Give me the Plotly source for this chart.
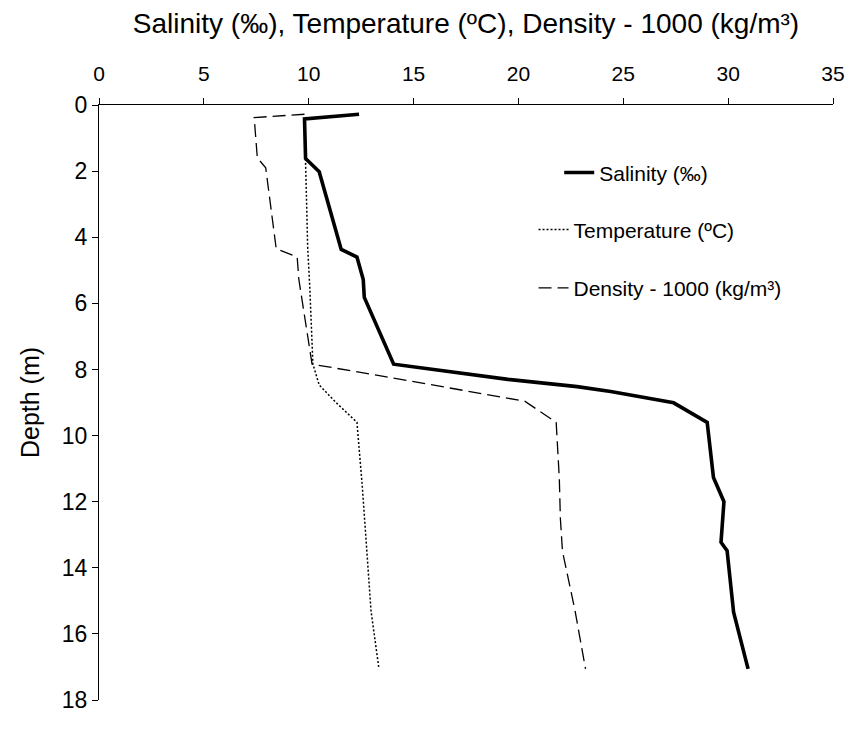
import plotly.graph_objects as go

# Salinity profile (‰) vs depth (m)
sal_depth = [0.28, 0.42, 1.62, 2.02, 4.37, 4.6, 5.28, 5.82, 7.84, 8.3, 8.52, 8.67, 9.01, 9.6,
             11.27, 12.0, 13.23, 13.48, 15.34, 17.06]
sal_value = [12.4, 9.8, 9.85, 10.5, 11.55, 12.3, 12.6, 12.65, 14.05, 19.5, 22.8, 24.4, 27.4, 29.0,
             29.3, 29.8, 29.66, 29.95, 30.26, 30.95]

# Temperature profile (ºC)
tem_depth = [0.42, 1.7, 4.3, 5.5, 7.84, 8.47, 9.0, 9.6, 11.5, 13.3, 15.3, 17.06]
tem_value = [9.8, 9.85, 9.95, 10.05, 10.2, 10.5, 11.3, 12.3, 12.55, 12.75, 12.97, 13.35]

# Density - 1000 (kg/m³)
den_depth = [0.28, 0.38, 1.6, 1.9, 4.35, 4.6, 5.28, 6.6, 7.84, 8.18, 8.82, 8.96, 9.6,
             11.3, 12.5, 13.5, 15.3, 17.06]
den_value = [9.8, 7.4, 7.55, 7.95, 8.45, 9.45, 9.53, 9.84, 10.16, 13.3, 19.0, 20.3, 21.8,
             21.95, 22.0, 22.1, 22.7, 23.2]

x_ticks = [0, 5, 10, 15, 20, 25, 30, 35]
y_ticks = [0, 2, 4, 6, 8, 10, 12, 14, 16, 18]

FONT = "Liberation Sans, Arial, sans-serif"

fig = go.Figure()
fig.add_trace(go.Scatter(x=sal_value, y=sal_depth, mode="lines", name="Salinity (‰)",
                         legend="legend",
                         line=dict(color="black", width=3.6)))
fig.add_trace(go.Scatter(x=tem_value, y=tem_depth, mode="lines", name="Temperature (ºC)",
                         legend="legend2",
                         line=dict(color="black", width=1.5, dash="2px,2px")))
fig.add_trace(go.Scatter(x=den_value, y=den_depth, mode="lines", name="Density - 1000 (kg/m³)",
                         legend="legend3",
                         line=dict(color="black", width=1.3, dash="13px,6px")))

leg_common = dict(xanchor="left", yanchor="middle", font=dict(size=21, color="black"),
                  bgcolor="rgba(0,0,0,0)")

fig.update_layout(
    width=857, height=731,
    margin=dict(l=99, r=15, t=105, b=31),
    paper_bgcolor="white", plot_bgcolor="white",
    font=dict(family=FONT, size=18, color="black"),
    showlegend=True,
    legend=dict(x=0.627, y=0.886, **leg_common),
    legend2=dict(x=0.592, y=0.790, **leg_common),
    legend3=dict(x=0.592, y=0.692, **leg_common),
    xaxis=dict(side="top", range=[0, 35], tickvals=x_ticks, ticktext=[str(v) for v in x_ticks],
               showgrid=False, zeroline=False, showline=True, linecolor="black", linewidth=1.3,
               ticks="outside", ticklen=6, tickcolor="black", tickwidth=1.3,
               tickfont=dict(size=21), ticklabelstandoff=8,
               title=dict(text="Salinity (‰), Temperature (ºC), Density - 1000 (kg/m³)",
                          font=dict(size=28), standoff=20)),
    yaxis=dict(range=[18, 0], tickvals=y_ticks, ticktext=[str(v) for v in y_ticks],
               showgrid=False, zeroline=False, showline=True, linecolor="black", linewidth=1.3,
               ticks="outside", ticklen=6, tickcolor="black", tickwidth=1.3,
               tickfont=dict(size=23),
               title=dict(text="Depth (m)", font=dict(size=25), standoff=14)),
)

fig.write_html("out.html")
